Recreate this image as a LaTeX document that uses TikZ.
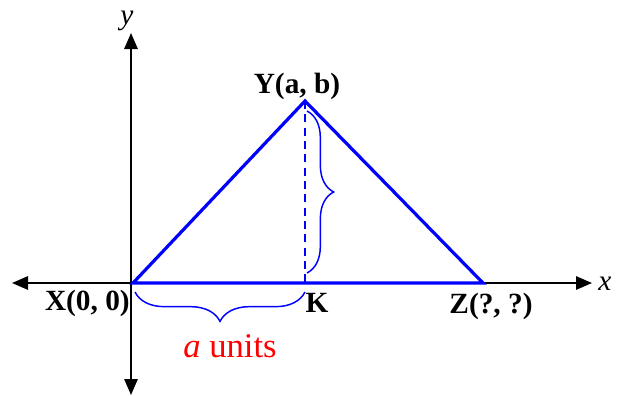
\documentclass[tikz,border=0pt]{standalone}
\usepackage{fontspec}
\setmainfont{Liberation Serif}
\usepackage{tikz}
\definecolor{triblue}{RGB}{0, 0, 255}
\definecolor{unitred}{RGB}{255, 0, 0}
\usetikzlibrary{arrows.meta, positioning, calc, decorations.pathreplacing}

\begin{document}
\begin{tikzpicture}[
    x=0.75pt, y=-0.75pt,
    axis/.style={draw=black, line width=1.5pt,
                 {Triangle[length=12pt, width=10pt]}-{Triangle[length=12pt, width=10pt]}},
    side/.style={draw=triblue, line width=2.4pt, line join=miter},
    bracebox/.style={draw=triblue, line width=1.1pt,
                     decorate, decoration={brace, amplitude=22pt}},
    pointlabel/.style={font=\fontsize{22}{26}\selectfont\bfseries, inner sep=0pt},
    axislabel/.style={font=\fontsize{22}{26}\selectfont\itshape, inner sep=0pt}
]
    \useasboundingbox (0,0) rectangle (629,396);

    % axes
    \coordinate (xleft) at (12,283);
    \coordinate (xright) at (592,283);
    \coordinate (ytop) at (131,33);
    \coordinate (ybottom) at (131,395);
    \draw[axis] (xleft) -- (xright);
    \draw[axis] (ybottom) -- (ytop);
    \node[axislabel, anchor=base] (ylabel) at (127,24) {y};
    \node[axislabel] (xlabel) at (605,284) {x};

    % triangle
    \coordinate (X) at (133,283);
    \coordinate (Y) at (305,101);
    \coordinate (Z) at (483,283);
    \coordinate (K) at (305,283);
    \draw[side] (X) -- (Y) -- (Z) -- cycle;
    \draw[triblue, line width=1.1pt, dash pattern=on 6pt off 4pt] (Y) -- (K);

    % braces
    \coordinate (hb1) at (135,292);
    \coordinate (hb2) at (305,292);
    \coordinate (vb1) at (307,111);
    \coordinate (vb2) at (307,273);
    \draw[bracebox] (hb2) -- (hb1);
    \draw[bracebox, decoration={brace, amplitude=20pt}] (vb1) -- (vb2);

    % labels
    \node[pointlabel] (ylab) at (297,86) {Y(a, b)};
    \node[pointlabel, anchor=east] (xlab) at (130,303) {X(0, 0)};
    \node[pointlabel] (klab) at (317,303) {K};
    \node[pointlabel] (zlab) at (491,306) {Z(?, ?)};
    \node[font=\fontsize{26}{30}\selectfont, text=unitred, inner sep=0pt]
        (units) at (230,346) {\textit{a} units};
\end{tikzpicture}
\end{document}
